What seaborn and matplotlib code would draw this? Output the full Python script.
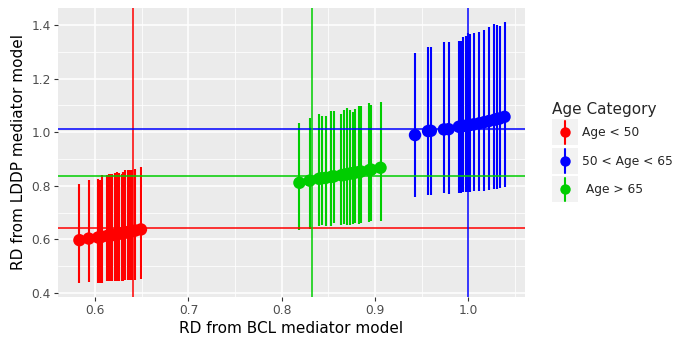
import pandas as pd
import numpy as np
import matplotlib
matplotlib.use('Agg')
import matplotlib.pyplot as plt
from matplotlib.lines import Line2D
from matplotlib.patches import Rectangle
from matplotlib.ticker import MultipleLocator
import seaborn as sns

# age groups, legend order and colours
groups = ['Age < 50', '50 < Age < 65', ' Age > 65']
colors = ['#FF0000', '#0000FF', '#00CD00']

# Age < 50
red_x = [0.583, 0.593, 0.603, 0.605, 0.607, 0.613, 0.615, 0.617, 0.618, 0.621,
         0.623, 0.625, 0.629, 0.630, 0.632, 0.635, 0.637, 0.639, 0.643, 0.649]
red_y = [0.597, 0.603, 0.607, 0.608, 0.610, 0.613, 0.614, 0.615, 0.616, 0.618,
         0.619, 0.620, 0.623, 0.624, 0.625, 0.627, 0.629, 0.630, 0.633, 0.637]
red_hi = [0.806, 0.821, 0.825, 0.820, 0.840, 0.840, 0.842, 0.844, 0.845, 0.846,
          0.850, 0.848, 0.845, 0.853, 0.858, 0.858, 0.859, 0.860, 0.862, 0.869]
red_lo = [0.436, 0.440, 0.436, 0.438, 0.438, 0.443, 0.443, 0.443, 0.444, 0.443,
          0.444, 0.446, 0.446, 0.446, 0.447, 0.447, 0.449, 0.449, 0.449, 0.454]

# 50 < Age < 65
blue_x = [0.943, 0.957, 0.960, 0.974, 0.979, 0.990, 0.992, 0.995, 0.998, 1.000,
          1.002, 1.006, 1.012, 1.017, 1.022, 1.028, 1.031, 1.034, 1.039]
blue_y = [0.989, 1.004, 1.005, 1.010, 1.011, 1.020, 1.021, 1.023, 1.024, 1.025,
          1.027, 1.029, 1.033, 1.037, 1.041, 1.046, 1.049, 1.051, 1.057]
blue_hi = [1.294, 1.316, 1.316, 1.337, 1.335, 1.340, 1.341, 1.356, 1.360, 1.370,
           1.365, 1.370, 1.372, 1.381, 1.393, 1.403, 1.400, 1.395, 1.410]
blue_lo = [0.757, 0.765, 0.766, 0.772, 0.768, 0.772, 0.773, 0.775, 0.776, 0.777,
           0.778, 0.779, 0.780, 0.781, 0.784, 0.787, 0.788, 0.790, 0.794]

# Age > 65
green_x = [0.819, 0.830, 0.840, 0.843, 0.847, 0.853, 0.856, 0.864, 0.867, 0.870,
           0.873, 0.876, 0.879, 0.883, 0.885, 0.894, 0.896, 0.906]
green_y = [0.811, 0.819, 0.826, 0.828, 0.829, 0.833, 0.835, 0.839, 0.841, 0.843,
           0.845, 0.847, 0.849, 0.851, 0.853, 0.858, 0.860, 0.867]
green_hi = [1.035, 1.054, 1.068, 1.061, 1.060, 1.079, 1.080, 1.068, 1.083, 1.090,
            1.083, 1.075, 1.085, 1.097, 1.099, 1.109, 1.100, 1.113]
green_lo = [0.635, 0.640, 0.651, 0.653, 0.650, 0.649, 0.661, 0.653, 0.658, 0.655,
            0.654, 0.658, 0.660, 0.658, 0.661, 0.665, 0.667, 0.669]

# overall RD per group (reference lines)
ref_bcl = [0.641, 1.000, 0.832]
ref_lddp = [0.643, 1.010, 0.835]

frames = []
for g, xs, ys, hi, lo in zip(groups,
                             [red_x, blue_x, green_x],
                             [red_y, blue_y, green_y],
                             [red_hi, blue_hi, green_hi],
                             [red_lo, blue_lo, green_lo]):
    frames.append(pd.DataFrame({'bcl': xs, 'lddp': ys, 'hi': hi, 'lo': lo, 'group': g}))
df = pd.concat(frames, ignore_index=True)

sns.set_theme(style='darkgrid', rc={
    'axes.facecolor': '#EBEBEB',
    'grid.color': 'white',
    'axes.edgecolor': 'none',
    'xtick.color': '#333333',
    'ytick.color': '#333333',
    'xtick.labelcolor': '#4D4D4D',
    'ytick.labelcolor': '#4D4D4D',
    'xtick.bottom': True,
    'ytick.left': True,
    'xtick.major.size': 3,
    'ytick.major.size': 3,
    'xtick.major.width': 0.8,
    'ytick.major.width': 0.8,
    'xtick.major.pad': 2,
    'ytick.major.pad': 2,
})
plt.rcParams['font.family'] = ['DejaVu Sans']

fig = plt.figure(figsize=(6.92, 3.46), dpi=100)
ax = fig.add_axes([0.0838, 0.1416, 0.6749, 0.8353])

pal = dict(zip(groups, colors))

# error bars
ax.vlines(df['bcl'], df['lo'], df['hi'], colors=df['group'].map(pal), linewidth=1.5, zorder=3)

# points
sns.scatterplot(data=df, x='bcl', y='lddp', hue='group', hue_order=groups,
                palette=pal, s=80, linewidth=0, legend=False, ax=ax, zorder=4)

# reference lines
for c, xv, yv in zip(colors, ref_bcl, ref_lddp):
    ax.axhline(yv, color=c, linewidth=1.1, zorder=5)
    ax.axvline(xv, color=c, linewidth=1.1, zorder=5)

ax.set_xlim(0.560, 1.061)
ax.set_ylim(0.385, 1.463)
ax.xaxis.set_major_locator(MultipleLocator(0.1))
ax.xaxis.set_minor_locator(MultipleLocator(0.05))
ax.yaxis.set_major_locator(MultipleLocator(0.2))
ax.yaxis.set_minor_locator(MultipleLocator(0.1))
ax.grid(which='major', color='white', linewidth=1.1)
ax.grid(which='minor', color='white', linewidth=0.55)
ax.tick_params(which='minor', length=0)
ax.tick_params(which='major', labelsize=8.8)
ax.set_axisbelow(True)

ax.set_xlabel('RD from BCL mediator model', fontsize=11, color='black', labelpad=3)
ax.set_ylabel('RD from LDDP mediator model', fontsize=11, color='black', labelpad=4)


class KeyHandler:
    # ggplot-like legend key: grey square, vertical bar, dot
    def __init__(self, color):
        self.color = color

    def legend_artist(self, legend, orig_handle, fontsize, handlebox):
        x0, y0 = handlebox.xdescent, handlebox.ydescent
        w, h = handlebox.width, handlebox.height
        tr = handlebox.get_transform()
        bg = Rectangle((-x0, -y0), w, h, facecolor='#F2F2F2', edgecolor='none', transform=tr)
        cx, cy = -x0 + w / 2, -y0 + h / 2
        bar = Line2D([cx, cx], [-y0 + 1, -y0 + h - 1], color=self.color, linewidth=1.5, transform=tr)
        dot = Line2D([cx], [cy], marker='o', markersize=7.5, markeredgewidth=0,
                     color=self.color, transform=tr)
        for a in (bg, bar, dot):
            handlebox.add_artist(a)
        return bg


handles = [Line2D([], [], color=c) for c in colors]
hmap = {h: KeyHandler(c) for h, c in zip(handles, colors)}

leg = fig.legend(handles, groups, title='Age Category', loc='upper left',
                 bbox_to_anchor=(552 / 692, 1 - 102 / 346), frameon=False,
                 fontsize=8.8, title_fontsize=11, handlelength=2.1, handleheight=2.9,
                 labelspacing=0.2, handletextpad=0.35, borderpad=0, borderaxespad=0,
                 alignment='left', handler_map=hmap)

fig.savefig('out.png', dpi=100)
